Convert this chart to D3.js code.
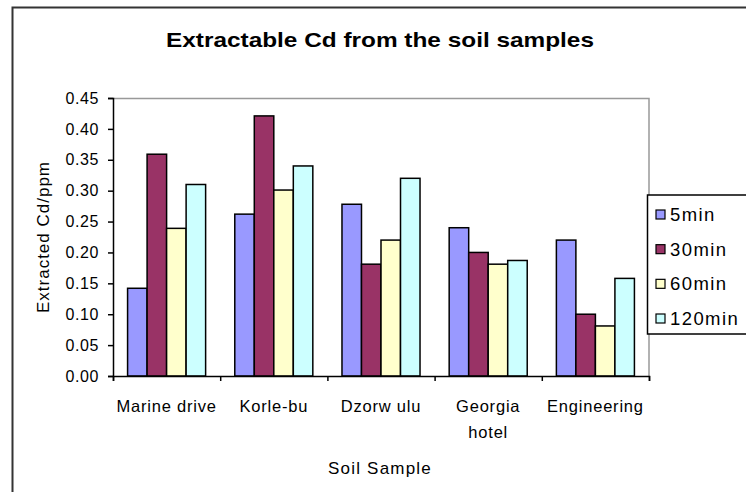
<!DOCTYPE html>
<html>
<head>
    <meta charset="utf-8">
    <script src="https://d3js.org/d3.v7.min.js"></script>
    <title>Extractable Cd</title>
    <style>
        body { margin: 0; background: #fff; }
        text { font-family: "Liberation Sans", Arial, sans-serif; fill: #000; }
    </style>
</head>
<body>
<svg id="chart"></svg>
<script>
    // data
    const samples = ["Marine drive", "Korle-bu", "Dzorw ulu", "Georgia hotel", "Engineering"];
    const series = ["5min", "30min", "60min", "120min"];
    const min5 = [0.142, 0.262, 0.278, 0.240, 0.220];
    const min30 = [0.359, 0.421, 0.181, 0.200, 0.100];
    const min60 = [0.239, 0.301, 0.220, 0.181, 0.081];
    const min120 = [0.310, 0.340, 0.320, 0.187, 0.158];
    const yTicks = [0, 0.05, 0.10, 0.15, 0.20, 0.25, 0.30, 0.35, 0.40, 0.45];
    const colors = ["#9999ff", "#993366", "#ffffcc", "#ccffff"];

    const values = [min5, min30, min60, min120];
    const width = 746, height = 492;
    const svg = d3.select("#chart").attr("width", width).attr("height", height);

    const margins = {top: 98, right: 97, bottom: 116, left: 113};
    const chartWidth = width - margins.left - margins.right;
    const chartHeight = height - margins.top - margins.bottom;

    // outer frame
    svg.append("rect")
       .attr("x", 12.5).attr("y", 7.5)
       .attr("width", 760).attr("height", 520)
       .attr("fill", "none").attr("stroke", "#333").attr("stroke-width", 2);

    svg.append("text")
       .attr("x", 166).attr("y", 47)
       .attr("textLength", 428)
       .attr("lengthAdjust", "spacingAndGlyphs")
       .style("font-size", "21px").style("font-weight", "bold")
       .text("Extractable Cd from the soil samples");

    const x0 = d3.scaleBand().domain(samples).range([0, chartWidth]).paddingInner(0.272).paddingOuter(0.136);
    const x1 = d3.scaleBand().domain(series).range([0, x0.bandwidth()]);
    const y = d3.scaleLinear().domain([0, 0.45]).range([chartHeight, 0]);

    const chartArea = svg.append("g").attr("transform", `translate(${margins.left}, ${margins.top})`);

    // plot area border (top/right grey)
    chartArea.append("path")
             .attr("d", `M0,0.5H${chartWidth}V${chartHeight}`)
             .attr("fill", "none").attr("stroke", "#999").attr("stroke-width", 1.5);

    let gTags = chartArea.selectAll("g.grp")
                         .data(samples)
                         .join("g")
                         .attr("class", "grp")
                         .attr("transform", d => `translate(${x0(d)}, 0)`);

    gTags.selectAll("rect")
         .data((d, i) => series.map((s, j) => ({s: s, v: values[j][i], c: colors[j]})))
         .join("rect")
         .attr("x", d => x1(d.s))
         .attr("y", d => y(d.v))
         .attr("width", x1.bandwidth())
         .attr("height", d => chartHeight - y(d.v))
         .attr("fill", d => d.c)
         .attr("stroke", "#000").attr("stroke-width", 1.5);

    // y axis
    let leftAxis = d3.axisLeft(y).tickValues(yTicks).tickFormat(d3.format(".2f")).tickSize(5).tickPadding(9);
    let yAxis = chartArea.append("g").call(leftAxis);
    yAxis.select(".domain").attr("stroke", "#000").attr("stroke-width", 1.5);
    yAxis.selectAll(".tick line").attr("stroke-width", 1.5);
    yAxis.selectAll("text")
         .style("font-size", "16px")
         .style("letter-spacing", "0.6px")
         .style("font-family", "'Liberation Sans', Arial, sans-serif");

    // x axis: ticks at category boundaries
    const xEdge = d3.scaleLinear().domain([0, samples.length]).range([0, chartWidth]);
    let botAxis = d3.axisBottom(xEdge).ticks(samples.length).tickSize(5).tickFormat("");
    let xAxis = chartArea.append("g").attr("transform", `translate(0, ${chartHeight})`).call(botAxis);
    xAxis.select(".domain").attr("stroke-width", 1.5);
    xAxis.selectAll(".tick line").attr("stroke-width", 1.5);

    // category labels
    const labels = chartArea.append("g").attr("transform", `translate(0, ${chartHeight})`);
    samples.forEach(s => {
        const words = s === "Georgia hotel" ? ["Georgia", "hotel"] : [s];
        const t = labels.append("text")
                        .attr("text-anchor", "middle")
                        .style("font-size", "16.5px")
                        .style("letter-spacing", "0.8px");
        words.forEach((w, k) => {
            t.append("tspan")
             .attr("x", x0(s) + x0.bandwidth() / 2)
             .attr("y", 36 + k * 26)
             .text(w);
        });
    });

    svg.append("text")
       .attr("x", 380).attr("y", 474)
       .attr("text-anchor", "middle")
       .style("font-size", "17px")
       .style("letter-spacing", "1.2px")
       .text("Soil Sample");

    svg.append("text")
       .attr("transform", `translate(49, 237) rotate(-90)`)
       .attr("text-anchor", "middle")
       .style("font-size", "17px")
       .style("letter-spacing", "1px")
       .text("Extracted Cd/ppm");

    // legend
    const legend = svg.append("g");
    legend.append("rect")
          .attr("x", 647.5).attr("y", 195)
          .attr("width", 120).attr("height", 139)
          .attr("fill", "#fff").attr("stroke", "#000").attr("stroke-width", 1.5);
    const rowY = d3.scalePoint().domain(series).range([215, 319]);
    series.forEach((s, j) => {
        legend.append("rect")
              .attr("x", 656).attr("y", rowY(s) - 5)
              .attr("width", 9).attr("height", 9)
              .attr("fill", colors[j]).attr("stroke", "#000").attr("stroke-width", 1.2);
        legend.append("text")
              .attr("x", 670).attr("y", rowY(s) + 6)
              .style("font-size", "18.5px")
              .style("letter-spacing", "1.4px")
              .text(s);
    });
</script>
</body>
</html>
